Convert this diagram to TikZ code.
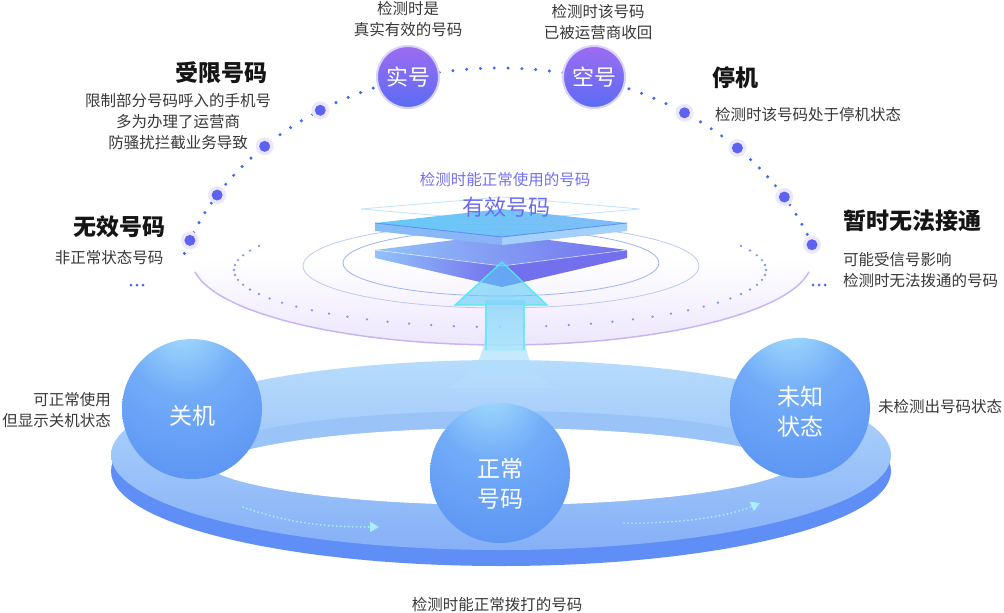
\documentclass[tikz,border=0pt]{standalone}
\usepackage{fontspec}
\setmainfont{Noto Sans CJK SC}
\usetikzlibrary{arrows.meta,positioning}
\definecolor{txtgray}{HTML}{383838}
\definecolor{headblack}{HTML}{151515}
\definecolor{arcdot}{HTML}{3F6DF0}
\definecolor{dothalo}{HTML}{EBE8FD}
\definecolor{dotcore}{HTML}{5D63EF}
\definecolor{ballTop}{HTML}{9D6CF1}
\definecolor{ballBot}{HTML}{5A6CF4}
\definecolor{ballGlow}{HTML}{D9D2FA}
\definecolor{orbhi}{HTML}{A8E2FD}
\definecolor{orbmid}{HTML}{72ACF8}
\definecolor{orbdeep}{HTML}{4F86F1}
\definecolor{discLav}{HTML}{EDE6FD}
\definecolor{discEdge}{HTML}{C8B6F4}
\definecolor{ringdot}{HTML}{7E98EE}
\definecolor{innerRing}{HTML}{9FB2F4}
\definecolor{ringSide}{HTML}{5F8FF6}
\definecolor{ringTop}{HTML}{B7DCFC}
\definecolor{ringBot}{HTML}{86B0F7}
\definecolor{ringWall}{HTML}{9AC3F8}
\definecolor{beamTop}{HTML}{A5E8FC}
\definecolor{arrowCyan}{HTML}{A9EEFC}
\definecolor{arrowEdge}{HTML}{4CECF7}
\definecolor{arrowHead}{HTML}{5FCAF7}
\definecolor{arrowFill}{HTML}{8FD0FA}
\definecolor{plateTopL}{HTML}{5EC7F8}
\definecolor{plateTopR}{HTML}{7AB9F7}
\definecolor{plateSideL}{HTML}{86BDF8}
\definecolor{plateSideR}{HTML}{A3D1FB}
\definecolor{plateEdge}{HTML}{5B8FF3}
\definecolor{plateLowL}{HTML}{92C3F8}
\definecolor{plateLowR}{HTML}{7370EE}
\definecolor{plateLine}{HTML}{C2E2FB}
\definecolor{validSmall}{HTML}{7470F3}
\definecolor{validBig}{HTML}{6C6CF0}
\pgfdeclareradialshading{orb}{\pgfpoint{-4bp}{32bp}}{color(0bp)=(orbhi);color(20bp)=(orbmid);color(58bp)=(orbdeep);color(90bp)=(orbdeep)}
\begin{document}
\begin{tikzpicture}[x=1pt,y=-1pt,
    small/.style={text=txtgray, font=\fontsize{15.5}{21}\selectfont, align=center, inner sep=0pt},
    head/.style={text=headblack, font=\fontsize{23}{26}\selectfont\bfseries, inner sep=0pt},
    bigdot/.style={circle, fill=dothalo, minimum size=18pt, inner sep=0pt,
      path picture={\fill[dotcore] (path picture bounding box.center) circle (5.5);}},
    numball/.style={circle, minimum size=62pt, inner sep=0pt, top color=ballTop, bottom color=ballBot,
      draw=ballGlow, line width=2pt, text=white, font=\fontsize{22}{24}\selectfont},
    orb/.style={circle, minimum size=140pt, inner sep=0pt, shade, shading=orb},
    orbtext/.style={text=white, align=center, inner sep=0pt, font=\fontsize{23}{30}\selectfont},
    ringarrow/.style={draw=arrowCyan, line width=2pt, line cap=round, dash pattern=on 0pt off 4pt,
      -{Triangle[width=10pt,length=9pt,fill=arrowCyan]}}
  ]
  \useasboundingbox (0,0) rectangle (1004,613);
  \fill[white] (0,0) rectangle (1004,613);

  \shade[top color=white, bottom color=discLav, middle color=white] (502,260) ellipse[x radius=310, y radius=85];
  \draw[discEdge, line width=1.5] (502,260) ++(8:310 and 85) arc[start angle=8, end angle=172, x radius=310, y radius=85];
  \draw[innerRing, line width=.8] (501,263) ellipse[x radius=158, y radius=33];
  \draw[innerRing!70, line width=.8] (501,266) ellipse[x radius=198, y radius=42];
  \foreach \a in {-25,-20,...,205}
    \fill[ringdot] (500,270) ++(\a:266 and 57) circle (1.3);

  \foreach \a in {-163,-160.6,...,-17}
    \fill[arcdot] (500,330) ++(\a:330 and 262) circle (1.7);
  \path (500,330) ++(-123:330 and 262) node[bigdot] (dLimit) {};
  \path (500,330) ++(-135.5:330 and 262) node[bigdot] (dLimitB) {};
  \path (500,330) ++(-149:330 and 262) node[bigdot] (dInvalidA) {};
  \path (500,330) ++(-160:330 and 262) node[bigdot] (dInvalid) {};
  \path (500,330) ++(-56:330 and 262) node[bigdot] (dStop) {};
  \path (500,330) ++(-44:330 and 262) node[bigdot] (dStopB) {};
  \path (500,330) ++(-30.5:330 and 262) node[bigdot] (dBusyA) {};
  \path (500,330) ++(-19:330 and 262) node[bigdot] (dBusy) {};
  \node[numball] (real) at (408,77) {实号};
  \node[numball] (empty) at (594,77) {空号};

  \fill[ringSide] (501,471) ellipse[x radius=390, y radius=95];
  \shade[top color=ringTop, bottom color=ringBot] (501,455) ellipse[x radius=390, y radius=95];
  \fill[ringWall] (501,458) ellipse[x radius=300, y radius=47];
  \begin{scope}
    \clip (501,458) ellipse[x radius=300, y radius=47];
    \fill[white] (501,475) ellipse[x radius=300, y radius=47];
  \end{scope}
  \shade[top color=beamTop, bottom color=ringTop, opacity=.7] (485,300) -- (485,330)
    .. controls (485,360) and (470,378) .. (447,388) -- (557,388)
    .. controls (534,378) and (525,360) .. (525,330) -- (525,300) -- cycle;

  \draw[plateLine, line width=.8] (361,209) -- (502,197) -- (640,209) -- (502,221) -- cycle;
  \shade[left color=plateLowL, right color=plateLowR] (375,250) -- (502,266) -- (502,287) -- (375,258) -- cycle;
  \fill[plateLowR] (502,266) -- (627,250) -- (627,258) -- (502,287) -- cycle;
  \shade[left color=plateLowL, right color=plateLowR] (375,250) -- (502,234) -- (627,250) -- (502,266) -- cycle;
  \draw[white, opacity=.5, line width=.8] (375,250) -- (502,266) -- (627,250);

  \shade[top color=arrowFill, bottom color=beamTop, opacity=.6] (486,305) rectangle (524,350);
  \fill[arrowHead, opacity=.6] (502,262) -- (547,305) -- (455,305) -- cycle;
  \draw[arrowEdge, line width=1.2] (486,350) -- (486,305) -- (455,305) -- (502,262) -- (547,305) -- (524,305) -- (524,350);

  \shade[left color=plateSideL, right color=plateEdge!70] (375,223) -- (502,237) -- (502,245) -- (375,231) -- cycle;
  \fill[plateSideR] (502,237) -- (627,223) -- (627,231) -- (502,245) -- cycle;
  \shade[left color=plateTopL, right color=plateTopR, opacity=.95] (375,223) -- (502,209) -- (627,223) -- (502,237) -- cycle;
  \draw[plateEdge, line width=.8] (375,223) -- (502,237) -- (627,223);

  \coordinate (laS) at (243,507);
  \coordinate (laE) at (379,527);
  \draw[ringarrow] (laS) .. controls (285,522) and (320,527) .. (laE);
  \coordinate (raS) at (624,523);
  \coordinate (raE) at (760,503);
  \draw[ringarrow] (raS) .. controls (670,524) and (725,518) .. (raE);

  \node[orb] (off) at (192,409) {};
  \node[orbtext] at (192,416) {关机};
  \node[orb] (unknown) at (800,408) {};
  \node[orbtext] at (800,412) {未知\\状态};
  \node[orb] (normal) at (500,473) {};
  \node[orbtext] at (500,484) {正常\\号码};

  \node[small] (realTxt) at (408,19.5) {检测时是\\真实有效的号码};
  \node[small] (emptyTxt) at (598,22) {检测时该号码\\已被运营商收回};
  \node[head] (limitHead) at (221,73) {受限号码};
  \node[small] (limitTxt) at (178,122) {限制部分号码呼入的手机号\\多为办理了运营商\\防骚扰拦截业务导致};
  \node[head] (invalidHead) at (119,227) {无效号码};
  \node[small] (invalidTxt) at (109,258) {非正常状态号码};
  \foreach \x in {131,137,143}
    \fill[arcdot] (\x,285) circle (1.5);
  \node[head] (stopHead) at (735,78) {停机};
  \node[small] (stopTxt) at (808,115) {检测时该号码处于停机状态};
  \node[head] (busyHead) at (912,221) {暂时无法接通};
  \node[small, align=left, anchor=west] (busyTxt) at (843,270) {可能受信号影响\\检测时无法拨通的号码};
  \foreach \x in {813,819,825}
    \fill[arcdot] (\x,285) circle (1.5);
  \node[small, text=validSmall] (validTxt) at (505,180) {检测时能正常使用的号码};
  \node[text=validBig, font=\fontsize{22}{24}\selectfont, inner sep=0pt] (validHead) at (506,207) {有效号码};
  \node[small, align=right, anchor=east] (offTxt) at (111,410) {可正常使用\\但显示关机状态};
  \node[small, anchor=west] (unknownTxt) at (878,407) {未检测出号码状态};
  \node[small] (dialTxt) at (497,605) {检测时能正常拨打的号码};
\end{tikzpicture}
\end{document}
